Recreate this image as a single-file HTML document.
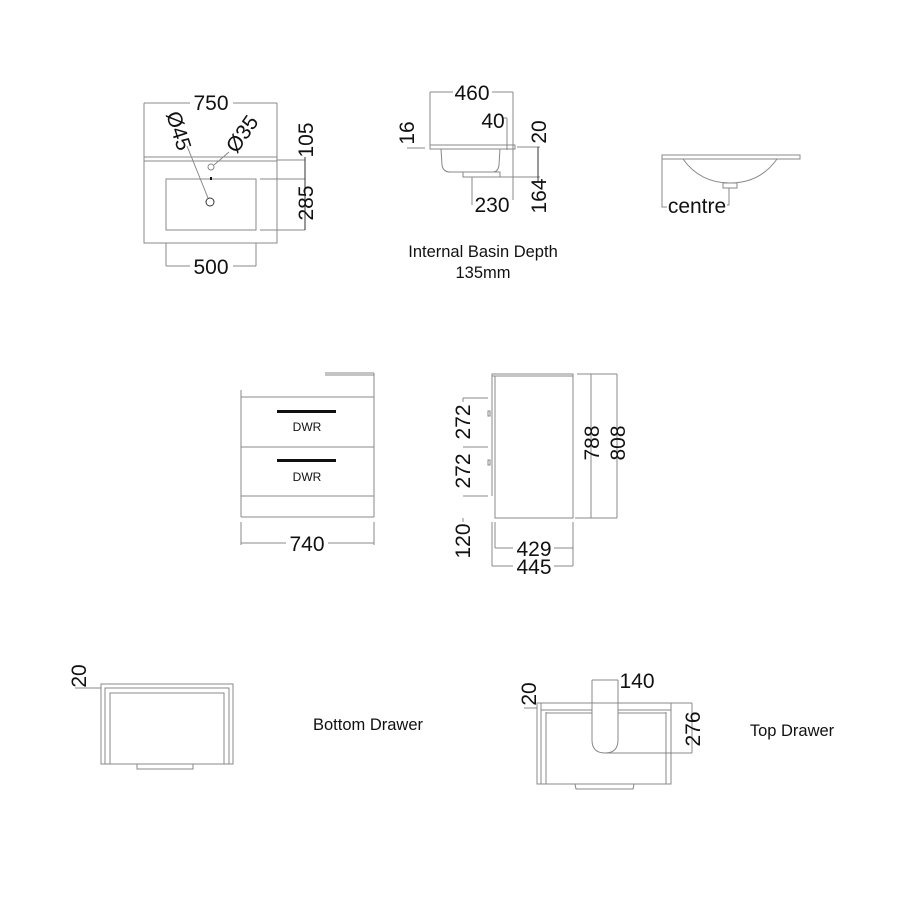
<!DOCTYPE html>
<html><head><meta charset="utf-8"><style>
html,body{margin:0;padding:0;background:#fff;width:900px;height:900px;overflow:hidden}
svg{display:block}
text{font-family:"Liberation Sans",sans-serif;fill:#111}
</style></head><body>
<svg width="900" height="900" viewBox="0 0 900 900" xmlns="http://www.w3.org/2000/svg">
<g fill="none" stroke="#888" stroke-width="1">
<rect x="144" y="157" width="133" height="86"/>
<line x1="144" y1="161" x2="277" y2="161"/>
<rect x="166" y="179" width="90" height="51"/>
<circle cx="211" cy="167" r="3"/>
<circle cx="210" cy="202" r="4" stroke="#333"/>
<line x1="144" y1="103" x2="144" y2="157"/><line x1="277" y1="103" x2="277" y2="157"/>
<line x1="144" y1="103" x2="190" y2="103"/><line x1="233" y1="103" x2="277" y2="103"/>
<line x1="277" y1="160" x2="305" y2="160"/><line x1="260" y1="179" x2="305" y2="179"/><line x1="260" y1="230" x2="305" y2="230"/>
<line x1="305" y1="157" x2="305" y2="230" stroke="#333"/>
<line x1="166" y1="243" x2="166" y2="266"/><line x1="256" y1="243" x2="256" y2="266"/>
<line x1="166" y1="266" x2="190" y2="266"/><line x1="233" y1="266" x2="256" y2="266"/>
<line x1="187" y1="146" x2="208" y2="198"/>
<line x1="229" y1="152" x2="214" y2="165"/>
<line x1="430" y1="92" x2="430" y2="145"/><line x1="513" y1="92" x2="513" y2="200"/>
<line x1="430" y1="92" x2="453" y2="92"/><line x1="492" y1="92" x2="513" y2="92"/>
<rect x="430" y="145" width="85" height="4"/>
<line x1="407" y1="148" x2="425" y2="148"/>
<path d="M441 149 L442 165 Q443 172 450 172 L493 172 Q498 172 499 165 L500 149"/>
<rect x="463" y="172" width="37" height="5"/>
<line x1="472" y1="177" x2="472" y2="205"/><line x1="500" y1="177" x2="540" y2="177"/>
<line x1="507" y1="118" x2="507" y2="150"/><line x1="503" y1="118" x2="507" y2="118"/>
<line x1="517" y1="147" x2="540" y2="147"/>
<line x1="538" y1="147" x2="538" y2="182" stroke="#333"/>
<rect x="662" y="155" width="138" height="4"/>
<path d="M683 159 Q700 183 730 183 Q760 183 777 159"/>
<rect x="723" y="183" width="14" height="5"/>
<polyline points="662,159 662,207 667,207"/>
<polyline points="729,188 729,205 727,205"/>
<line x1="325" y1="373" x2="374" y2="373"/><line x1="325" y1="375" x2="374" y2="375"/>
<line x1="241" y1="390" x2="241" y2="517"/><line x1="374" y1="373" x2="374" y2="517"/>
<line x1="241" y1="397" x2="374" y2="397"/><line x1="241" y1="447" x2="374" y2="447"/>
<line x1="241" y1="496" x2="374" y2="496"/><line x1="241" y1="517" x2="374" y2="517"/>
<line x1="241" y1="522" x2="241" y2="545"/><line x1="374" y1="522" x2="374" y2="545"/>
<line x1="241" y1="543" x2="286" y2="543"/><line x1="328" y1="543" x2="374" y2="543"/>
<rect x="492" y="374" width="81" height="2"/>
<rect x="495" y="376" width="78" height="142"/>
<line x1="492" y1="376" x2="492" y2="496"/>
<rect x="488" y="411" width="2" height="5"/><rect x="488" y="460" width="2" height="5"/>
<line x1="463" y1="398" x2="488" y2="398"/><line x1="463" y1="447" x2="488" y2="447"/><line x1="463" y1="496" x2="488" y2="496"/>
<line x1="463" y1="398" x2="463" y2="402"/><line x1="463" y1="518" x2="463" y2="522"/>
<line x1="495" y1="522" x2="495" y2="548"/><line x1="573" y1="522" x2="573" y2="566"/><line x1="492" y1="522" x2="492" y2="566"/>
<line x1="495" y1="548" x2="513" y2="548"/><line x1="554" y1="548" x2="573" y2="548"/>
<line x1="492" y1="566" x2="513" y2="566"/><line x1="554" y1="566" x2="573" y2="566"/>
<line x1="577" y1="374" x2="617" y2="374"/><line x1="575" y1="518" x2="617" y2="518"/>
<line x1="591" y1="374" x2="591" y2="518"/><line x1="617" y1="374" x2="617" y2="518"/>
<rect x="101" y="684" width="132" height="80"/>
<rect x="105" y="688" width="124" height="76"/>
<rect x="110" y="693" width="114" height="71"/>
<path d="M137 764 L137 769 L193 769 L193 764"/>
<line x1="75" y1="688" x2="101" y2="688"/>
<rect x="537" y="703" width="134" height="81"/>
<line x1="541" y1="703" x2="541" y2="784"/><line x1="546" y1="712" x2="546" y2="784"/><line x1="666" y1="712" x2="666" y2="784"/>
<line x1="541" y1="710" x2="592" y2="710"/><line x1="618" y1="710" x2="671" y2="710"/>
<line x1="546" y1="713" x2="592" y2="713"/><line x1="618" y1="713" x2="666" y2="713"/>
<path d="M592 703 L592 740 Q592 753 605 753 Q618 753 618 740 L618 703"/>
<line x1="592" y1="680" x2="592" y2="703"/><line x1="618" y1="680" x2="618" y2="703"/><line x1="592" y1="680" x2="618" y2="680"/>
<line x1="605" y1="753" x2="692" y2="753"/><line x1="671" y1="703" x2="692" y2="703"/>
<line x1="692" y1="703" x2="692" y2="753"/>
<path d="M575 784 L576 789 L633 789 L634 784"/>
<line x1="524" y1="708" x2="537" y2="708"/>
</g>
<g fill="#111">
<rect x="277" y="410" width="59" height="3"/><rect x="277" y="459" width="59" height="3"/>
<rect x="210" y="177" width="2" height="3"/>
</g>
<g font-size="21">
<text x="211" y="110" text-anchor="middle">750</text>
<text x="211" y="274" text-anchor="middle">500</text>
<text transform="translate(313,140) rotate(-90)" text-anchor="middle">105</text>
<text transform="translate(313,203) rotate(-90)" text-anchor="middle">285</text>
<text transform="translate(172,133) rotate(72)" text-anchor="middle">Ø45</text>
<text transform="translate(248,138) rotate(-55)" text-anchor="middle">Ø35</text>
<text x="472" y="100" text-anchor="middle">460</text>
<text x="493" y="128" text-anchor="middle">40</text>
<text transform="translate(414,133) rotate(-90)" text-anchor="middle">16</text>
<text transform="translate(546,132) rotate(-90)" text-anchor="middle">20</text>
<text transform="translate(546,196) rotate(-90)" text-anchor="middle">164</text>
<text x="492" y="212" text-anchor="middle">230</text>
<text x="697" y="213" text-anchor="middle">centre</text>
<text x="307" y="551" text-anchor="middle">740</text>
<text transform="translate(470,422) rotate(-90)" text-anchor="middle">272</text>
<text transform="translate(470,471) rotate(-90)" text-anchor="middle">272</text>
<text transform="translate(470,541) rotate(-90)" text-anchor="middle">120</text>
<text x="534" y="556" text-anchor="middle">429</text>
<text x="534" y="574" text-anchor="middle">445</text>
<text transform="translate(599,443) rotate(-90)" text-anchor="middle">788</text>
<text transform="translate(625,443) rotate(-90)" text-anchor="middle">808</text>
<text transform="translate(86,676) rotate(-90)" text-anchor="middle">20</text>
<text transform="translate(536,694) rotate(-90)" text-anchor="middle">20</text>
<text x="637" y="688" text-anchor="middle">140</text>
<text transform="translate(700,729) rotate(-90)" text-anchor="middle">276</text>
</g>
<g font-size="16.5" fill="#222">
<text x="483" y="257" text-anchor="middle">Internal Basin Depth</text>
<text x="483" y="278" text-anchor="middle">135mm</text>
<text x="368" y="730" text-anchor="middle">Bottom Drawer</text>
<text x="792" y="736" text-anchor="middle">Top Drawer</text>
</g>
<g font-size="12" fill="#444">
<text x="307" y="431" text-anchor="middle">DWR</text>
<text x="307" y="481" text-anchor="middle">DWR</text>
</g>
</svg>
</body></html>
